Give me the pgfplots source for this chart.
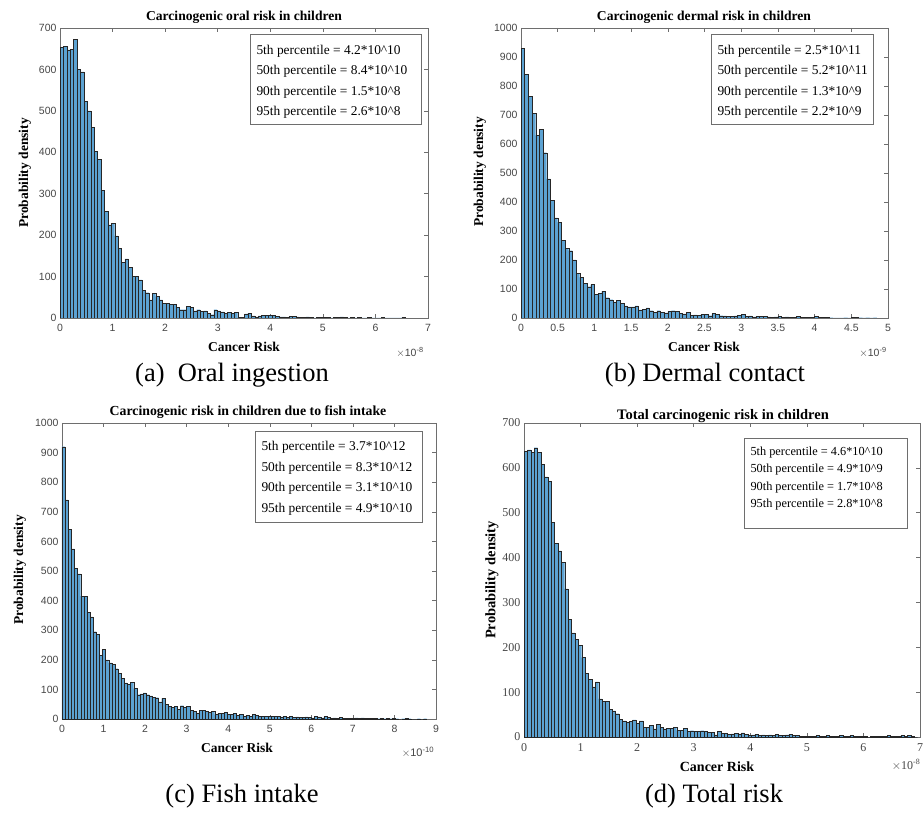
\documentclass[border=0pt]{standalone}
\usepackage{pgfplots}
\pgfplotsset{compat=1.18}
\usepackage{pgfplotstable}
\usepackage{fontspec}
\setmainfont{Liberation Serif}
\newfontfamily\sansf{Liberation Sans}
\definecolor{barblue}{RGB}{92,162,210}
\definecolor{axgray}{RGB}{110,110,110}
\definecolor{tkgray}{RGB}{70,70,70}

\pgfplotstableread[row sep=\\]{h\\654\\656\\647\\649\\672\\600\\594\\523\\500\\460\\403\\383\\308\\258\\225\\229\\198\\168\\135\\143\\122\\100\\100\\92\\67\\61\\44\\60\\52\\44\\36\\35\\33\\33\\25\\20\\20\\28\\26\\17\\20\\16\\17\\12\\8\\20\\17\\15\\12\\13\\11\\13\\1\\2\\10\\12\\5\\3\\5\\6\\6\\6\\7\\4\\3\\3\\2\\4\\4\\3\\2\\1\\3\\2\\0\\1\\1\\2\\1\\0\\1\\2\\3\\1\\0\\1\\0\\1\\0\\0\\1\\0\\0\\0\\1\\0\\0\\0\\0\\0\\1\\0\\}\tA
\pgfplotstableread[row sep=\\]{h\\930\\840\\765\\705\\630\\650\\570\\480\\405\\345\\330\\268\\240\\232\\200\\153\\140\\120\\108\\115\\82\\85\\92\\70\\63\\55\\62\\50\\42\\38\\38\\42\\28\\30\\35\\25\\20\\25\\20\\18\\23\\25\\24\\15\\14\\19\\10\\11\\10\\13\\12\\8\\15\\12\\8\\7\\5\\6\\7\\9\\12\\6\\7\\4\\5\\5\\5\\4\\3\\4\\5\\3\\4\\3\\3\\6\\2\\2\\3\\3\\5\\3\\2\\2\\1\\0\\0\\0\\1\\0\\2\\2\\1\\0\\1\\0\\1\\0\\}\tB
\pgfplotstableread[row sep=\\]{h\\920\\740\\640\\575\\510\\490\\415\\415\\360\\345\\295\\285\\215\\235\\200\\190\\185\\170\\155\\137\\122\\118\\125\\103\\82\\85\\88\\82\\78\\73\\72\\58\\70\\50\\42\\40\\42\\32\\45\\40\\43\\30\\25\\20\\30\\30\\25\\22\\25\\15\\20\\18\\22\\16\\15\\18\\12\\16\\10\\12\\10\\15\\12\\10\\10\\8\\9\\8\\9\\10\\7\\8\\5\\10\\6\\7\\6\\5\\7\\6\\4\\8\\7\\4\\8\\5\\3\\4\\2\\5\\3\\3\\2\\3\\4\\2\\4\\3\\2\\3\\2\\1\\2\\1\\3\\1\\2\\1\\0\\1\\2\\1\\0\\0\\1\\0\\1\\0\\}\tC
\pgfplotstableread[row sep=\\]{h\\637\\640\\635\\645\\635\\608\\580\\570\\478\\432\\415\\390\\330\\262\\232\\218\\205\\177\\142\\128\\112\\123\\85\\80\\80\\62\\58\\52\\40\\36\\32\\35\\38\\30\\36\\22\\22\\26\\18\\28\\22\\18\\20\\20\\22\\15\\15\\20\\12\\14\\12\\12\\14\\12\\10\\11\\5\\12\\8\\8\\6\\7\\8\\7\\9\\6\\4\\5\\6\\4\\5\\4\\5\\4\\6\\3\\4\\5\\6\\3\\4\\2\\2\\1\\2\\1\\3\\2\\1\\3\\1\\2\\1\\3\\2\\1\\3\\1\\2\\1\\2\\0\\1\\2\\1\\1\\2\\3\\2\\1\\2\\4\\2\\3\\1\\0\\0\\}\tD

\pgfplotsset{
  hist/.style={
    scale only axis, anchor=south west,
    xmin=0, ymin=0,
    tick align=inside, tick pos=both,
    major tick length=4pt,
    axis line style={axgray, line width=0.5pt},
    every tick/.style={axgray, line width=0.5pt},
    ticklabel style={font=\sansf\fontsize{10.5}{10.5}\selectfont, text=tkgray},
    xticklabel style={yshift=-3pt},
    /pgf/number format/assume math mode=true,
    /pgf/number format/1000 sep={},
    scaled ticks=false,
  },
  barstyle/.style={ybar interval, fill=barblue, draw=black!85, line width=0.35pt},
}
\newcommand{\ttl}{\bfseries\fontsize{13.6}{13.6}\selectfont}
\newcommand{\lab}{\bfseries\fontsize{13.5}{13.5}\selectfont}
\newcommand{\leg}{\fontsize{13.4}{13.4}\selectfont}
\newcommand{\capf}{\fontsize{26.5}{26.5}\selectfont}

\begin{document}
\begin{tikzpicture}[x=1pt,y=1pt]
\useasboundingbox (0,0) rectangle (924,812);

% (a)
\begin{axis}[hist, at={(60pt,494pt)}, width=368pt, height=290pt,
  xmax=7, ymax=700, xtick={0,1,...,7}, ytick={0,100,...,700}]
\addplot[barstyle] table[x expr=\coordindex*0.065, y=h] {\tA};
\end{axis}
% (b)
\begin{axis}[hist, at={(521pt,494pt)}, width=367pt, height=290pt,
  xmax=5, ymax=1000, xtick={0,0.5,...,5}, ytick={0,100,...,1000}]
\addplot[barstyle] table[x expr=\coordindex*0.05, y=h] {\tB};
\end{axis}
% (c)
\begin{axis}[hist, at={(62pt,93pt)}, width=374pt, height=296pt,
  xmax=9, ymax=1000, xtick={0,1,...,9}, ytick={0,100,...,1000}]
\addplot[barstyle] table[x expr=\coordindex*0.075, y=h] {\tC};
\end{axis}
% (d)
\begin{axis}[hist, at={(524pt,75pt)}, width=396pt, height=314pt,
  xmax=7, ymax=700, xtick={0,1,...,7}, ytick={0,100,...,700},
  ticklabel style={font=\fontsize{12}{12}\selectfont, text=tkgray}]
\addplot[barstyle] table[x expr=\coordindex*0.06, y=h] {\tD};
\end{axis}

% titles
\node at (244,795) {\ttl Carcinogenic oral risk in children};
\node at (704,795) {\ttl Carcinogenic dermal risk in children};
\node at (248,400) {\bfseries\fontsize{13.8}{13.8}\selectfont Carcinogenic risk in children due to fish intake};
\node at (723,396) {\bfseries\fontsize{14.5}{14.5}\selectfont Total carcinogenic risk in children};

% y labels
\node[rotate=90] at (25,639) {\lab Probability density};
\node[rotate=90] at (480,640) {\lab Probability density};
\node[rotate=90] at (20,242) {\lab Probability density};
\node[rotate=90] at (492,232) {\bfseries\fontsize{14.5}{14.5}\selectfont Probability density};

% x labels
\node at (244,465) {\lab Cancer Risk};
\node at (704,465) {\lab Cancer Risk};
\node at (237,64) {\lab Cancer Risk};
\node at (717,45) {\bfseries\fontsize{14}{14}\selectfont Cancer Risk};

% multipliers
\node[text=tkgray] at (410,460) {\sansf\fontsize{10.5}{10.5}\selectfont $\times$10\textsuperscript{-8}};
\node[text=tkgray] at (873,460) {\sansf\fontsize{10.5}{10.5}\selectfont $\times$10\textsuperscript{-9}};
\node[text=tkgray] at (418,60) {\sansf\fontsize{11}{11}\selectfont $\times$10\textsuperscript{-10}};
\node[text=tkgray] at (906,47) {\fontsize{12}{12}\selectfont $\times$10\textsuperscript{-8}};

% legend boxes
\draw[axgray, line width=0.6pt] (250,778) rectangle (421,688);
\node[anchor=west] at (253,761) {\leg 5th percentile = 4.2*10\textasciicircum10};
\node[anchor=west] at (253,741) {\leg 50th percentile = 8.4*10\textasciicircum10};
\node[anchor=west] at (253,720) {\leg 90th percentile = 1.5*10\textasciicircum8};
\node[anchor=west] at (253,700) {\leg 95th percentile = 2.6*10\textasciicircum8};

\draw[axgray, line width=0.6pt] (711,778) rectangle (873,688);
\node[anchor=west] at (714,761) {\leg 5th percentile = 2.5*10\textasciicircum11};
\node[anchor=west] at (714,741) {\leg 50th percentile = 5.2*10\textasciicircum11};
\node[anchor=west] at (714,720) {\leg 90th percentile = 1.3*10\textasciicircum9};
\node[anchor=west] at (714,700) {\leg 95th percentile = 2.2*10\textasciicircum9};

\draw[axgray, line width=0.6pt] (255,381) rectangle (422,290);
\node[anchor=west] at (258,365) {\leg 5th percentile = 3.7*10\textasciicircum12};
\node[anchor=west] at (258,344) {\leg 50th percentile = 8.3*10\textasciicircum12};
\node[anchor=west] at (258,324) {\leg 90th percentile = 3.1*10\textasciicircum10};
\node[anchor=west] at (258,303) {\leg 95th percentile = 4.9*10\textasciicircum10};

\draw[axgray, line width=0.6pt] (744,374) rectangle (907,284);
\node[anchor=west] at (747,359) {\fontsize{12.3}{12.3}\selectfont 5th percentile = 4.6*10\textasciicircum10};
\node[anchor=west] at (747,342) {\fontsize{12.3}{12.3}\selectfont 50th percentile = 4.9*10\textasciicircum9};
\node[anchor=west] at (747,324) {\fontsize{12.3}{12.3}\selectfont 90th percentile = 1.7*10\textasciicircum8};
\node[anchor=west] at (747,307) {\fontsize{12.3}{12.3}\selectfont 95th percentile = 2.8*10\textasciicircum8};

% captions
\node at (232,437) {\capf (a)\ \ Oral ingestion};
\node at (705,437) {\capf (b) Dermal contact};
\node at (242,16) {\capf (c) Fish intake};
\node at (714,16) {\capf (d) Total risk};
\end{tikzpicture}
\end{document}
